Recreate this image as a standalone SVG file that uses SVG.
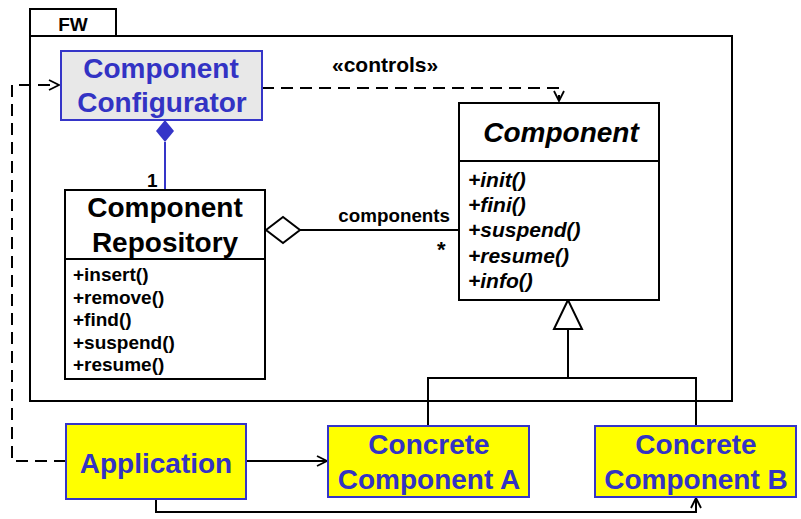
<svg xmlns="http://www.w3.org/2000/svg" width="801" height="519" viewBox="0 0 801 519">
<defs>
<style>
text{font-family:"Liberation Sans",Arial,sans-serif;font-weight:bold}
.blk{fill:#000}
.blu{fill:#3333c4}
.box{fill:#fff;stroke:#000;stroke-width:2}
.ybox{fill:#ffff00;stroke:#3535c8;stroke-width:2}
.gbox{fill:#e8e8e8;stroke:#3535c8;stroke-width:2}
.ln{fill:none;stroke:#000;stroke-width:2}
.dash{fill:none;stroke:#000;stroke-width:2;stroke-dasharray:12 7}
.t28{font-size:28px}
.m19{font-size:19px}
.m21{font-size:21px;font-style:italic}
</style>
<marker id="open" viewBox="0 0 12 12" refX="11" refY="6" markerWidth="12" markerHeight="12" markerUnits="userSpaceOnUse" orient="auto">
<path d="M1,1 L11,6 L1,11" fill="none" stroke="#000" stroke-width="1.8"/>
</marker>
</defs>

<g id="frame-FW">
<rect x="30" y="9" width="86" height="27" class="box"/>
<rect x="30" y="36" width="702" height="365" class="box" style="fill:none"/>
<text x="73" y="31" class="blk" font-size="19" text-anchor="middle">FW</text>
</g>

<g id="connectors">
<!-- composition -->
<line x1="165" y1="142" x2="165" y2="189" stroke="#3535c8" stroke-width="2"/>
<polygon points="165,120 174,131 165,142 156,131" fill="#3535c8"/>
<text x="147" y="187" class="blk" font-size="19">1</text>
<!-- aggregation -->
<line x1="300" y1="230" x2="459" y2="230" class="ln"/>
<polygon points="266,230 283,217 300,230 283,243" fill="#fff" stroke="#000" stroke-width="2"/>
<text x="450" y="222" class="blk" font-size="18.8" text-anchor="end">components</text>
<text x="437" y="257" class="blk" font-size="22">*</text>
<!-- controls -->
<path d="M262,88 H559 V101" class="dash" marker-end="url(#open)"/>
<text x="332" y="72" class="blk" font-size="21">«controls»</text>
<!-- left dashed -->
<path d="M66,461 H12 V85 H59" class="dash" marker-end="url(#open)"/>
<!-- app to A -->
<path d="M246,461 H327" class="ln" marker-end="url(#open)"/>
<!-- app to B -->
<path d="M156,499 V512 H696 V498" class="ln" marker-end="url(#open)"/>
<!-- generalization -->
<path d="M568,329 V378 M428,426 V378 H696 V426" class="ln"/>
<polygon points="568,300 554,329 582,329" fill="#fff" stroke="#000" stroke-width="2"/>
</g>

<g id="node-configurator">
<rect x="61" y="51" width="201" height="69" class="gbox"/>
<text x="161" y="78" class="blu t28" text-anchor="middle">Component</text>
<text x="162" y="112" class="blu t28" text-anchor="middle">Configurator</text>
</g>

<g id="node-repository">
<rect x="65" y="190" width="200" height="189" class="box"/>
<line x1="65" y1="259" x2="265" y2="259" class="ln"/>
<text x="165" y="217" class="blk t28" text-anchor="middle">Component</text>
<text x="165" y="252" class="blk t28" text-anchor="middle">Repository</text>
<text x="73" y="281" class="blk m19">+insert()</text>
<text x="73" y="304" class="blk m19">+remove()</text>
<text x="73" y="326" class="blk m19">+find()</text>
<text x="73" y="349" class="blk m19">+suspend()</text>
<text x="73" y="371" class="blk m19">+resume()</text>
</g>

<g id="node-component">
<rect x="459" y="103" width="200" height="197" class="box"/>
<line x1="459" y1="161" x2="659" y2="161" class="ln"/>
<text x="561" y="142" class="blk t28" font-style="italic" text-anchor="middle">Component</text>
<text x="468" y="187" class="blk m21">+init()</text>
<text x="468" y="212" class="blk m21">+fini()</text>
<text x="468" y="237" class="blk m21">+suspend()</text>
<text x="468" y="263" class="blk m21">+resume()</text>
<text x="468" y="288" class="blk m21">+info()</text>
</g>

<g id="node-application">
<rect x="66" y="424" width="180" height="75" class="ybox"/>
<text x="156" y="473" class="blu t28" text-anchor="middle">Application</text>
</g>

<g id="node-concrete-a">
<rect x="328" y="426" width="201" height="71" class="ybox"/>
<text x="429" y="454" class="blu t28" text-anchor="middle">Concrete</text>
<text x="429" y="489" class="blu t28" text-anchor="middle">Component A</text>
</g>

<g id="node-concrete-b">
<rect x="595" y="426" width="201" height="71" class="ybox"/>
<text x="696" y="454" class="blu t28" text-anchor="middle">Concrete</text>
<text x="696" y="489" class="blu t28" text-anchor="middle">Component B</text>
</g>
</svg>
